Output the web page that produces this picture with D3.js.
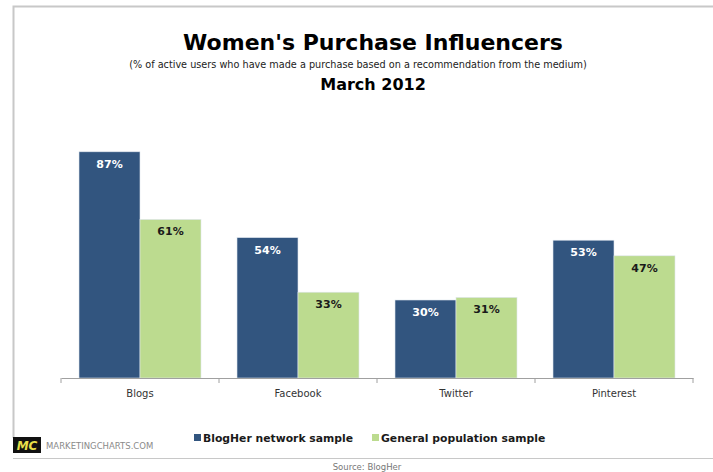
<!DOCTYPE html>
<html>
<head>
<meta charset="utf-8">
<script src="https://cdn.jsdelivr.net/npm/d3@7"></script>
<style>
  body { margin: 0; background: #fff; }
  text { font-family: "DejaVu Sans", Verdana, sans-serif; }
</style>
</head>
<body>
<div id="chart"></div>
<script>
const categories = ["Blogs", "Facebook", "Twitter", "Pinterest"];
const blogher = [87, 54, 30, 53];
const general = [61, 33, 31, 47];
const seriesNames = ["BlogHer network sample", "General population sample"];

const WIDTH = 713, HEIGHT = 472;
const DARK = "#32557f", GREEN = "#bcdb8f";

const svg = d3.select("#chart").append("svg")
    .attr("width", WIDTH)
    .attr("height", HEIGHT);

// frame
svg.append("path")
    .attr("d", "M713,6.5H13.5V438")
    .attr("fill", "none")
    .attr("stroke", "#c8c8c8")
    .attr("stroke-width", 2);
svg.append("line")
    .attr("x1", 13).attr("x2", 713)
    .attr("y1", 458.5).attr("y2", 458.5)
    .attr("stroke", "#c8c8c8");

// titles
svg.append("text")
    .attr("x", 373).attr("y", 50)
    .attr("text-anchor", "middle")
    .style("font-size", "22px").style("font-weight", "bold")
    .text("Women's Purchase Influencers");
svg.append("text")
    .attr("x", 358).attr("y", 68)
    .attr("text-anchor", "middle")
    .style("font-size", "9.7px").attr("fill", "#222")
    .text("(% of active users who have made a purchase based on a recommendation from the medium)");
svg.append("text")
    .attr("x", 373).attr("y", 90)
    .attr("text-anchor", "middle")
    .style("font-size", "16px").style("font-weight", "bold")
    .text("March 2012");

const x0 = d3.scaleBand()
    .domain(categories)
    .range([61, 693])
    .paddingInner(0)
    .paddingOuter(0);

const x1 = d3.scaleBand()
    .domain([0, 1])
    .range([18, x0.bandwidth() - 18]);

const y = d3.scaleLinear()
    .domain([0, 100])
    .range([378, 118]);

const rows = categories.map((c, i) => ({ cat: c, vals: [blogher[i], general[i]] }));

const groups = svg.append("g").selectAll("g")
    .data(rows)
    .join("g")
    .attr("transform", d => `translate(${x0(d.cat)},0)`);

groups.selectAll("rect")
    .data(d => d.vals)
    .join("rect")
    .attr("x", (d, j) => x1(j))
    .attr("y", d => y(d))
    .attr("width", x1.bandwidth())
    .attr("height", d => y(0) - y(d))
    .attr("fill", (d, j) => j === 0 ? DARK : GREEN)
    .attr("stroke", "#dfe6ee")
    .attr("stroke-width", 0.6);

groups.selectAll("text.val")
    .data(d => d.vals)
    .join("text")
    .attr("class", "val")
    .attr("x", (d, j) => x1(j) + x1.bandwidth() / 2)
    .attr("y", d => y(d) + 16)
    .attr("text-anchor", "middle")
    .style("font-size", "11px").style("font-weight", "bold")
    .attr("fill", (d, j) => j === 0 ? "#fff" : "#1a1a1a")
    .text(d => d + "%");

// axis
const xAxis = d3.axisBottom(x0).tickSize(0).tickPadding(12);
const gx = svg.append("g")
    .attr("transform", "translate(0,378)")
    .call(xAxis);
gx.select(".domain").attr("stroke", "#a0a0a0");
gx.selectAll(".tick text")
    .style("font-size", "10px")
    .style("font-family", "'DejaVu Sans', Verdana, sans-serif")
    .attr("fill", "#333");
gx.selectAll("line.sep")
    .data(d3.range(categories.length + 1))
    .join("line")
    .attr("class", "sep")
    .attr("x1", i => 61 + i * x0.step()).attr("x2", i => 61 + i * x0.step())
    .attr("y1", 0).attr("y2", 5)
    .attr("stroke", "#a0a0a0");

// legend
const legend = svg.append("g").attr("transform", "translate(194,438)");
const legendX = [0, 178];
seriesNames.forEach((name, i) => {
    const g = legend.append("g").attr("transform", `translate(${legendX[i]},0)`);
    g.append("rect")
        .attr("x", 0).attr("y", -4)
        .attr("width", 7).attr("height", 7)
        .attr("fill", i === 0 ? DARK : GREEN);
    g.append("text")
        .attr("x", 9).attr("y", 4)
        .style("font-size", "10.8px").style("font-weight", "bold")
        .attr("fill", "#1a1a1a")
        .text(name);
});

// branding
svg.append("rect")
    .attr("x", 13).attr("y", 437)
    .attr("width", 28).attr("height", 16)
    .attr("fill", "#111");
svg.append("text")
    .attr("x", 27).attr("y", 450)
    .attr("text-anchor", "middle")
    .style("font-size", "12px").style("font-weight", "bold").style("font-style", "italic")
    .attr("fill", "#e8e04a")
    .text("MC");
svg.append("text")
    .attr("x", 46).attr("y", 449)
    .style("font-size", "8.5px")
    .attr("fill", "#8a8a8a")
    .text("MARKETINGCHARTS.COM");
svg.append("text")
    .attr("x", 367).attr("y", 470)
    .attr("text-anchor", "middle")
    .style("font-size", "8.5px")
    .attr("fill", "#777")
    .text("Source: BlogHer");
</script>
</body>
</html>
